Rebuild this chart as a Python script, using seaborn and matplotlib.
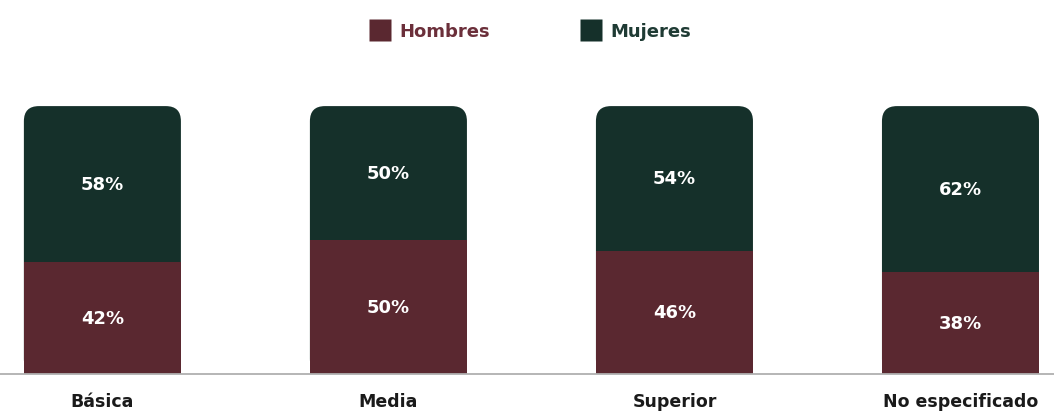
import numpy as np
import pandas as pd
import matplotlib
matplotlib.use("Agg")
import matplotlib.pyplot as plt
from matplotlib.patches import FancyBboxPatch
from matplotlib.lines import Line2D
import seaborn as sns

# data
NIVELES = ["Básica", "Media", "Superior", "No especificado"]
HOMBRES = [42, 50, 46, 38]
MUJERES = [58, 50, 54, 62]

C_HOMBRES = "#5a2830"
C_MUJERES = "#15302a"
C_TXT_H = "#6b2f3a"
C_TXT_M = "#1f3b34"

df = pd.DataFrame({"nivel": NIVELES, "hombres": HOMBRES, "mujeres": MUJERES})
df["total"] = df["hombres"] + df["mujeres"]

sns.set_style("white")
plt.rcParams["font.family"] = ["DejaVu Sans"]

fig = plt.figure(figsize=(10.54, 4.14), dpi=100)
ax = fig.add_axes([0, 0.094, 1, 0.6473])

BAR_W = 0.549
sns.barplot(data=df, x="nivel", y="total", color=C_MUJERES, saturation=1,
            width=BAR_W, linewidth=0, ax=ax)
top_bars = list(ax.patches)
sns.barplot(data=df, x="nivel", y="hombres", color=C_HOMBRES, saturation=1,
            width=BAR_W, linewidth=0, ax=ax)
low_bars = [p for p in ax.patches if p not in top_bars]

ax.set_xlim(-0.358, 3.327)
ax.set_ylim(0, 100)

# rounded top corners for the stacked bars
px_x = fig.get_figwidth() * fig.dpi / (ax.get_xlim()[1] - ax.get_xlim()[0])
px_y = fig.get_figheight() * fig.dpi * 0.6473 / 100
rad_px = 15
rx = rad_px / px_x
asp = (rad_px / px_y) / rx
for p in top_bars:
    p.set_visible(False)
    ax.add_patch(FancyBboxPatch((p.get_x(), p.get_y()), p.get_width(), p.get_height(),
                                boxstyle=f"round,pad=0,rounding_size={rx}",
                                mutation_aspect=asp, facecolor=C_MUJERES,
                                edgecolor="none", zorder=1))
for p in low_bars:
    p.set_zorder(2)
    p.set_edgecolor("none")

# percentage labels
for i, (h, m) in enumerate(zip(HOMBRES, MUJERES)):
    ax.text(i, h / 2, f"{h}%", ha="center", va="center", color="white",
            fontsize=13, fontweight="bold", zorder=3)
    ax.text(i, h + m / 2, f"{m}%", ha="center", va="center", color="white",
            fontsize=13, fontweight="bold", zorder=3)

ax.set_xlabel("")
ax.set_ylabel("")
ax.set_yticks([])
ax.tick_params(axis="x", length=0, pad=13, labelsize=12.5, labelcolor="#1a1a1a")
for lbl in ax.get_xticklabels():
    lbl.set_fontweight("bold")
for s in ["top", "left", "right"]:
    ax.spines[s].set_visible(False)
ax.spines["bottom"].set_color("#b0b0b0")
ax.spines["bottom"].set_linewidth(1.3)
ax.set_facecolor("none")

handles = [Line2D([], [], marker="s", linestyle="none", markersize=16,
                  markerfacecolor=C_HOMBRES, markeredgecolor="none"),
           Line2D([], [], marker="s", linestyle="none", markersize=16,
                  markerfacecolor=C_MUJERES, markeredgecolor="none")]
leg = fig.legend(handles, ["Hombres", "Mujeres"], loc="upper center",
                 bbox_to_anchor=(0.503, 0.983), ncol=2, frameon=False,
                 fontsize=13, columnspacing=5.0, handletextpad=0.45,
                 handlelength=1.2)
for t, c in zip(leg.get_texts(), [C_TXT_H, C_TXT_M]):
    t.set_color(c)
    t.set_fontweight("bold")

fig.savefig("out.png", dpi=100)
